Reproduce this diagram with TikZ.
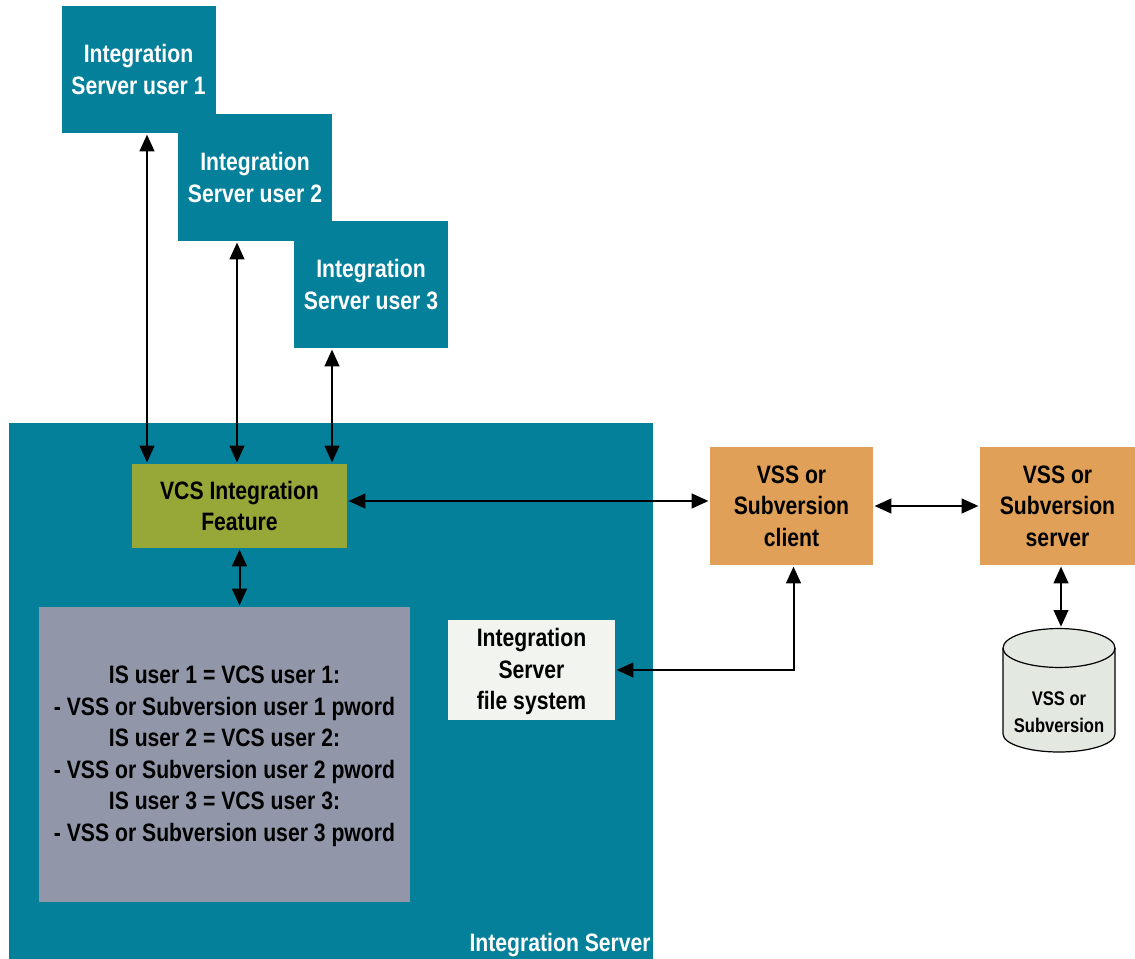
\documentclass[tikz,border=0pt]{standalone}
\usepackage{fontspec}
\setmainfont{Liberation Sans}[FakeStretch=0.84]
\usetikzlibrary{arrows.meta, calc}
\definecolor{tealbox}{HTML}{04809B}
\definecolor{greenbox}{HTML}{98A838}
\definecolor{greybox}{HTML}{9197A9}
\definecolor{orangebox}{HTML}{E0A058}
\definecolor{filebox}{HTML}{F2F4EF}
\definecolor{dbfill}{HTML}{E3E8E0}
\tikzset{
  arrow/.style={line width=1.5pt,{Triangle[width=11pt,length=12.5pt]}-{Triangle[width=11pt,length=12.5pt]},shorten >=1pt,shorten <=1pt},
  box/.style={align=center,inner sep=0pt,font=\fontsize{18.9}{23.6}\selectfont\bfseries},
  userbox/.style={box,fill=tealbox,text=white,minimum width=115.5pt,minimum height=95.25pt},
  softbox/.style={box,fill=orangebox,minimum width=122.25pt,minimum height=88.5pt}
}
\begin{document}
\begin{tikzpicture}[x=0.75pt,y=-0.75pt]
        \useasboundingbox (0,0) rectangle (1135,959);

        % Integration Server
        \node at (331,691) [box,fill=tealbox,minimum width=483pt,minimum height=402pt] (server) {};
        \node at (651,957) [box,anchor=south east,text=white] (serverlabel) {Integration Server};

        % Users
        \node at (138.5,69.5) [userbox] (user1) {Integration\\Server user 1};
        \node at (255,177.5) [userbox] (user2) {Integration\\Server user 2};
        \node at (371,284.5) [userbox] (user3) {Integration\\Server user 3};

        % Inside the server
        \node at (239.5,506) [box,fill=greenbox,minimum width=161.25pt,minimum height=63pt] (vcs) {VCS Integration\\Feature};
        \node at (224.5,754.5) [box,fill=greybox,minimum width=278.25pt,minimum height=221.25pt] (map) {\rule{0pt}{16pt}IS user 1 = VCS user 1:\\- VSS or Subversion user 1 pword\\IS user 2 = VCS user 2:\\- VSS or Subversion user 2 pword\\IS user 3 = VCS user 3:\\- VSS or Subversion user 3 pword};
        \node at (531.5,670) [box,fill=filebox,minimum width=125.25pt,minimum height=75pt] (files) {\rule{0pt}{16pt}Integration\\Server\\file system};

        % Client and server
        \node at (791.5,506) [softbox] (client) {VSS or\\Subversion\\client};
        \node at (1057.5,506) [softbox,minimum width=116.25pt] (vssserver) {VSS or\\Subversion\\server};

        % Repository
        \filldraw[fill=dbfill,line width=0.9pt] (1003,648) -- (1003,734)
          arc[start angle=180,end angle=360,x radius=42pt,y radius=13.5pt] -- (1115,648)
          arc[start angle=0,end angle=180,x radius=42pt,y radius=14.6pt] -- cycle;
        \draw[line width=0.9pt] (1115,648) arc[start angle=0,end angle=-180,x radius=42pt,y radius=14.6pt];
        \coordinate (repotop) at (1059,628);
        \node at (1059,712) [align=center,inner sep=0pt,font=\fontsize{14.8}{20}\selectfont\bfseries] (repolabel) {VSS or\\Subversion};

        % User connections
        \draw[arrow] ($(user1.south)+(8.5,0)$) -- ($(vcs.north)+(-92.5,0)$);
        \draw[arrow] ($(user2.south)+(-18,0)$) -- ($(vcs.north)+(-2.5,0)$);
        \draw[arrow] ($(user3.south)+(-39,0)$) -- ($(vcs.north)+(92.5,0)$);

        % Other connections
        \draw[arrow] (vcs.south) -- ($(map.north)+(15,0)$);
        \draw[arrow] ($(vcs.east)+(0,-5)$) -- ($(client.west)+(0,-5)$);
        \draw[arrow] (client.east) -- (vssserver.west);
        \draw[arrow] (files.east) -| ($(client.south)+(2,0)$);
        \draw[arrow] ($(vssserver.south)+(3.5,0)$) -- ($(repotop)+(2,0)$);
\end{tikzpicture}
\end{document}
